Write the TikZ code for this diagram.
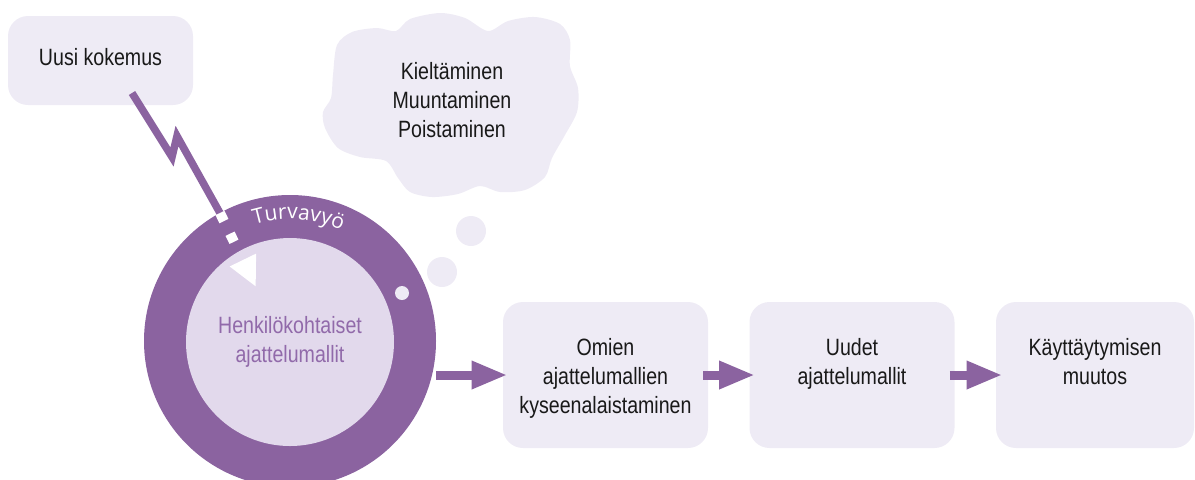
\documentclass[tikz,border=0pt]{standalone}
\usepackage{fontspec}
\setmainfont{Liberation Sans}[FakeStretch=0.83]
\newfontfamily\beltfont{Open Sans}[LetterSpace=6]
\usepackage{tikz}
\usetikzlibrary{arrows.meta, decorations.text}
\definecolor{ringviolet}{RGB}{139,99,160}
\definecolor{corelilac}{RGB}{226,217,236}
\definecolor{palelilac}{RGB}{238,235,245}
\definecolor{coretext}{RGB}{145,106,170}

\begin{document}
\begin{tikzpicture}[x=0.5pt, y=-0.5pt]
\tikzstyle{box}=[rounded corners=10pt, fill=palelilac, inner sep=0pt]
\tikzstyle{txt}=[align=center, inner sep=0pt, font=\fontsize{11.8}{14.5}\selectfont, text=black!90]
\tikzstyle{bubble}=[circle, fill=palelilac, inner sep=0pt]
\tikzstyle{flow}=[draw=ringviolet, line width=4.5pt, -{Triangle[length=18pt, width=13pt]}]

\useasboundingbox (0,0) rectangle (1195,479);

% thought cloud
\fill[palelilac] plot[smooth cycle] coordinates {
  (325,128) (323,112) (331,98) (333,75) (337,45) (352,32) (377,28) (396,31)
  (410,19) (440,13) (465,18) (488,31) (508,21) (535,17) (560,24) (570,40)
  (570,66) (578,88) (577,112) (565,135) (552,158) (545,177) (525,190)
  (500,192) (480,186) (458,194) (432,197) (410,192) (398,178) (386,161)
  (360,157) (338,148)};
\node[txt] (c) at (452,100) {Kieltäminen\\Muuntaminen\\Poistaminen};
\node[bubble, minimum size=15pt] (p1) at (471,231) {};
\node[bubble, minimum size=15pt] (p2) at (442,272) {};

\node[box, txt, minimum width=92.5pt, minimum height=44.5pt, text depth=3.5pt] (kok) at (100.5,60.5) {Uusi kokemus};

% ring
\node[circle, fill=ringviolet, minimum size=146pt, inner sep=0pt] (belt) at (290,341) {};
\node[circle, fill=corelilac, minimum size=104pt, inner sep=0pt] (core) at (290,342) {};
\node[txt, text=coretext] (h) at (core) {Henkilökohtaiset\\ajattelumallit};
\node[bubble, minimum size=7pt] (d) at (402,293) {};
\path[decorate, decoration={text along path, text align=center,
  text={|\beltfont\fontsize{10.5}{12}\selectfont\color{white}|Turvavyö}}]
  (belt.center) ++(-118:122) arc[start angle=-118, end angle=-54, radius=122];

% lightning
\coordinate (z0) at (132,93);
\coordinate (z1) at (172,157);
\coordinate (z2) at (177,136);
\coordinate (z3) at (220,213);
\coordinate (z4) at (256,287);
\draw[ringviolet, line width=3.75pt, line join=miter] (z0) -- (z1) -- (z2) -- (z3);
\draw[white, line width=5pt, dash pattern=on 4.5pt off 7pt on 4.5pt off 20pt,
  -{Triangle[length=15pt, width=13.5pt]}] (z3) -- (z4);

% steps
\node[box, minimum width=102.5pt, minimum height=73pt] (b1) at (605.5,375) {};
\node[box, minimum width=102.5pt, minimum height=73pt] (b2) at (852,375) {};
\node[box, minimum width=99pt, minimum height=73pt] (b3) at (1095,375) {};
\node[txt, anchor=north] (t1) at ([yshift=-18pt]b1.north) {Omien\\ajattelumallien\\kyseenalaistaminen};
\node[txt, anchor=north] (t2) at ([yshift=-18pt]b2.north) {Uudet\\ajattelumallit};
\node[txt, anchor=north] (t3) at ([yshift=-18pt]b3.north) {Käyttäytymisen\\muutos};

\draw[flow] (belt.east |- b1.west) -- ([xshift=2.5pt]b1.west);
\draw[flow] ([xshift=-2.5pt]b1.east) -- ([xshift=3pt]b2.west);
\draw[flow] ([xshift=-2.5pt]b2.east) -- ([xshift=3.5pt]b3.west);

\end{tikzpicture}
\end{document}
